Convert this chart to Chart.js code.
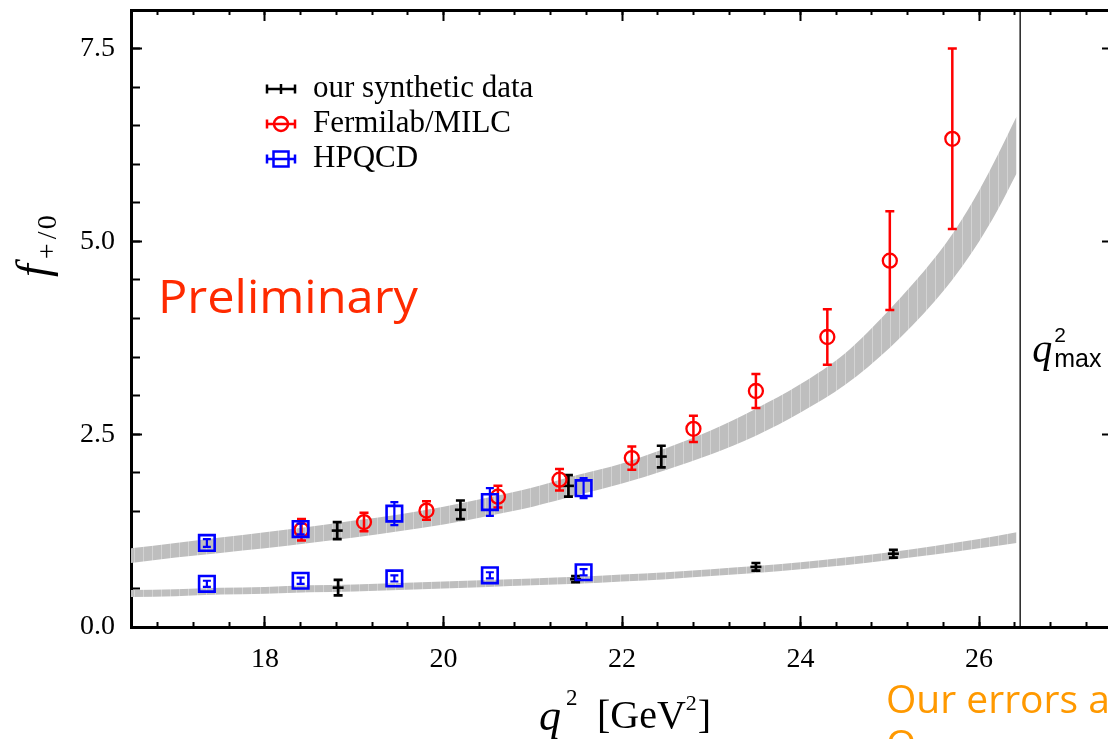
<!DOCTYPE html>
<html>
<head>
<meta charset="utf-8">
<title>f+ / f0 form factors vs q2</title>
<script src="https://cdn.jsdelivr.net/npm/chart.js@4.4.1/dist/chart.umd.min.js"></script>
<style>
  html, body { margin: 0; padding: 0; background: #fff; overflow: hidden; width: 1108px; height: 739px; }
  #wrap { position: relative; width: 1108px; height: 739px; overflow: hidden; }
  #ffChart { position: absolute; left: 0; top: 0; }
</style>
</head>
<body>
<div id="wrap"><canvas id="ffChart" width="1118" height="739"></canvas></div>
<script>
// Fit bands (lower / upper edge) for f+ and f0
const plusQ2  = [16.5, 17.0, 17.5, 18.0, 18.5, 19.0, 19.5, 20.0, 20.5, 21.0, 21.5, 22.0, 22.5, 23.0, 23.5, 24.0, 24.5, 25.0, 25.5, 25.75, 26.0, 26.2, 26.42];
const plusLo  = [0.83, 0.90, 0.96, 1.02, 1.09, 1.16, 1.24, 1.33, 1.44, 1.56, 1.71, 1.86, 2.04, 2.24, 2.48, 2.78, 3.14, 3.62, 4.22, 4.58, 5.00, 5.39, 5.88];
const plusHi  = [1.02, 1.09, 1.16, 1.23, 1.30, 1.38, 1.46, 1.56, 1.68, 1.81, 1.97, 2.12, 2.32, 2.55, 2.83, 3.15, 3.55, 4.12, 4.78, 5.18, 5.66, 6.10, 6.62];

const zeroQ2  = [16.5, 17.0, 17.5, 18.0, 18.5, 19.0, 19.5, 20.0, 20.5, 21.0, 21.5, 22.0, 22.5, 23.0, 23.5, 24.0, 24.5, 25.0, 25.5, 26.0, 26.42];
const zeroLo  = [0.39, 0.40, 0.42, 0.43, 0.45, 0.46, 0.48, 0.50, 0.52, 0.54, 0.56, 0.59, 0.62, 0.66, 0.70, 0.75, 0.80, 0.87, 0.94, 1.02, 1.09];
const zeroHi  = [0.48, 0.49, 0.51, 0.52, 0.54, 0.55, 0.57, 0.59, 0.61, 0.63, 0.65, 0.68, 0.71, 0.75, 0.79, 0.84, 0.90, 0.97, 1.05, 1.14, 1.23];

// our synthetic data
const synthPlusQ2  = [18.81, 20.19, 21.40, 22.44];
const synthPlusF   = [1.25, 1.52, 1.83, 2.21];
const synthPlusErr = [0.11, 0.12, 0.14, 0.14];
const synthZeroQ2  = [18.82, 21.48, 23.50, 25.04];
const synthZeroF   = [0.51, 0.62, 0.78, 0.95];
const synthZeroErr = [0.10, 0.04, 0.05, 0.05];

// Fermilab/MILC
const fnalQ2  = [18.41, 19.11, 19.81, 20.61, 21.30, 22.11, 22.80, 23.50, 24.30, 25.00, 25.70];
const fnalF   = [1.26, 1.36, 1.51, 1.69, 1.91, 2.19, 2.57, 3.06, 3.76, 4.75, 6.33];
const fnalErr = [0.14, 0.12, 0.12, 0.14, 0.14, 0.15, 0.17, 0.22, 0.36, 0.64, 1.17];

// HPQCD
const hpqcdQ2       = [17.35, 18.40, 19.45, 20.52, 21.57];
const hpqcdPlusF    = [1.09, 1.27, 1.47, 1.62, 1.80];
const hpqcdPlusErr  = [0.05, 0.07, 0.15, 0.18, 0.13];
const hpqcdZeroF    = [0.56, 0.60, 0.63, 0.67, 0.71];
const hpqcdZeroErr  = [0.04, 0.04, 0.04, 0.04, 0.04];

const legendOrder = ['our synthetic data', 'Fermilab/MILC', 'HPQCD'];
const xTickValues = [18, 20, 22, 24, 26];
const yTickValues = [0, 2.5, 5.0, 7.5];
const qSqMax = 26.46;

const SERIF = '"Liberation Serif", "Times New Roman", serif';
const SANS = '"Liberation Sans", Arial, sans-serif';
const GILL = '"Open Sans", sans-serif';

const pts = (xs, ys) => xs.map((x, i) => ({ x: x, y: ys[i] }));

const canvas = document.getElementById('ffChart');
const ctx = canvas.getContext('2d');

// grey fill with faint vertical striping
function bandPattern() {
    const c = document.createElement('canvas');
    c.width = 9; c.height = 4;
    const g = c.getContext('2d');
    g.fillStyle = '#bebebe';
    g.fillRect(0, 0, 9, 4);
    g.fillStyle = '#d3d3d3';
    g.fillRect(8, 0, 1, 4);
    return ctx.createPattern(c, 'repeat');
}
const band = bandPattern();

function bandSet(xs, ys, fill) {
    return {
        type: 'line',
        data: pts(xs, ys),
        borderWidth: 0,
        pointRadius: 0,
        backgroundColor: band,
        fill: fill,
        cubicInterpolationMode: 'monotone',
        order: 10
    };
}

function pointSet(label, xs, ys, errs, color, style, radius, opts) {
    return Object.assign({
        label: label,
        type: 'line',
        showLine: false,
        data: pts(xs, ys),
        errors: errs,
        borderColor: color,
        backgroundColor: 'rgba(0,0,0,0)',
        pointStyle: style,
        pointRadius: radius,
        pointBorderWidth: 2.3,
        pointBorderColor: color,
        pointBackgroundColor: 'rgba(0,0,0,0)',
        errorWidth: 2.5,
        capHalf: 4.5
    }, opts);
}

// vertical error bars with caps, drawn before each marker set
const errorBars = {
    id: 'errorBars',
    beforeDatasetDraw(chart, args) {
        const ds = chart.data.datasets[args.index];
        if (!ds.errors) return;
        const c = chart.ctx;
        const yScale = chart.scales[args.meta.yAxisID];
        c.save();
        c.strokeStyle = ds.borderColor;
        c.lineWidth = ds.errorWidth;
        args.meta.data.forEach((el, i) => {
            const v = ds.data[i].y;
            const e = ds.errors[i];
            const top = yScale.getPixelForValue(v + e);
            const bot = yScale.getPixelForValue(v - e);
            const h = ds.capHalf;
            c.beginPath();
            c.moveTo(el.x, top); c.lineTo(el.x, bot);
            c.moveTo(el.x - h, top); c.lineTo(el.x + h, top);
            c.moveTo(el.x - h, bot); c.lineTo(el.x + h, bot);
            c.stroke();
        });
        c.restore();
    }
};

// legend, q2max line and the free text on the plot
const decorations = {
    id: 'decorations',
    afterDraw(chart) {
        const c = chart.ctx;
        const xs = chart.scales.x;
        const area = chart.chartArea;
        c.save();

        // q^2_max
        const qx = xs.getPixelForValue(qSqMax);
        c.strokeStyle = '#000';
        c.lineWidth = 1.3;
        c.beginPath();
        c.moveTo(qx, area.top);
        c.lineTo(qx, area.bottom);
        c.stroke();

        c.fillStyle = '#000';
        c.textBaseline = 'alphabetic';
        c.textAlign = 'left';
        c.font = 'italic 40px ' + SERIF;
        c.fillText('q', qx + 12, 362);
        c.font = '21px ' + SANS;
        c.fillText('2', qx + 34, 342);
        c.font = '25px ' + SANS;
        c.fillText('max', qx + 34, 367);

        // legend
        const rows = legendOrder.map(name => chart.data.datasets.find(d => d.label === name));
        rows.forEach((d, i) => {
            const cy = 89 + i * 35;
            const x0 = 267, x1 = 295, cx = 281;
            c.strokeStyle = d.borderColor;
            c.lineWidth = 2.5;
            c.beginPath();
            c.moveTo(x0, cy); c.lineTo(x1, cy);
            c.moveTo(x0, cy - 4.5); c.lineTo(x0, cy + 4.5);
            c.moveTo(x1, cy - 4.5); c.lineTo(x1, cy + 4.5);
            c.stroke();
            c.beginPath();
            if (d.pointStyle === 'circle') {
                c.arc(cx, cy, 7, 0, Math.PI * 2);
            } else if (d.pointStyle === 'rect') {
                c.rect(cx - 7.5, cy - 7.5, 15, 15);
            } else {
                c.moveTo(cx, cy - 5); c.lineTo(cx, cy + 5);
            }
            c.lineWidth = 2.5;
            c.stroke();
            c.fillStyle = '#000';
            c.font = '31px ' + SERIF;
            c.fillText(d.label, 313, cy + 8);
        });

        // y axis title f_{+/0}
        c.save();
        c.translate(48, 277);
        c.rotate(-Math.PI / 2);
        c.fillStyle = '#000';
        c.font = 'italic 46px ' + SERIF;
        c.fillText('f', 0, 0);
        const fw = c.measureText('f').width;
        c.font = '28px ' + SERIF;
        c.fillText('+', fw + 5, 8);
        c.fillText('/', fw + 25, 8);
        c.fillText('0', fw + 35, 8);
        c.restore();

        // x axis title q^2 [GeV^2]
        c.fillStyle = '#000';
        c.font = 'italic 44px ' + SERIF;
        c.fillText('q', 539, 730);
        c.font = '23px ' + SERIF;
        c.fillText('2', 566, 705);
        c.font = '40px ' + SERIF;
        c.fillText('[GeV', 597, 728);
        const w = c.measureText('[GeV').width;
        c.font = '22px ' + SERIF;
        c.fillText('2', 597 + w, 710);
        const w2 = c.measureText('2').width;
        c.font = '40px ' + SERIF;
        c.fillText(']', 597 + w + w2 + 1, 728);

        // Preliminary
        c.save();
        c.font = '46px ' + GILL;
        c.fillStyle = '#ff2a00';
        const pw = c.measureText('Preliminary').width;
        c.translate(158, 313);
        c.scale(260 / pw, 1);
        c.fillText('Preliminary', 0, 0);
        c.restore();

        // orange note, runs off the edge
        c.font = '39px ' + GILL;
        c.fillStyle = '#ff9900';
        c.fillText('Our errors are', 886, 713);
        c.fillText('O', 886, 758);

        c.restore();
    }
};

const tickMarks = (len) => ({
    display: true,
    drawOnChartArea: false,
    drawTicks: true,
    tickLength: -len,
    tickWidth: 2,
    tickColor: '#000'
});
const frame = { display: true, color: '#000', width: 3 };
const noFrame = { display: false };
const tickFont = { family: SERIF, size: 28 };

// fixed axis box size, no extra room for end labels
const fixSize = (dim, size) => s => {
    s[dim] = size;
    s.paddingTop = 0; s.paddingBottom = 0;
    s.paddingLeft = 0; s.paddingRight = 0;
};

const chart = new Chart(ctx, {
    type: 'line',
    data: {
        datasets: [
            pointSet('HPQCD', hpqcdQ2, hpqcdPlusF, hpqcdPlusErr, '#0000ff', 'rect', 11, { order: 1, capHalf: 4, errorWidth: 2.2, pointBorderWidth: 2.6 }),
            pointSet(null, hpqcdQ2, hpqcdZeroF, hpqcdZeroErr, '#0000ff', 'rect', 11, { order: 1, capHalf: 4, errorWidth: 2.2, pointBorderWidth: 2.6 }),
            pointSet('Fermilab/MILC', fnalQ2, fnalF, fnalErr, '#ff0000', 'circle', 7, { order: 2 }),
            pointSet('our synthetic data', synthPlusQ2, synthPlusF, synthPlusErr, '#000000', 'line', 5.5, { order: 3, pointBorderWidth: 2.6, errorWidth: 2.7 }),
            pointSet(null, synthZeroQ2, synthZeroF, synthZeroErr, '#000000', 'line', 5.5, { order: 3, pointBorderWidth: 2.6, errorWidth: 2.7 }),
            bandSet(plusQ2, plusHi, '+1'),
            bandSet(plusQ2, plusLo, false),
            bandSet(zeroQ2, zeroHi, '+1'),
            bandSet(zeroQ2, zeroLo, false)
        ]
    },
    options: {
        responsive: false,
        animation: false,
        events: [],
        layout: { autoPadding: false, padding: { top: 10, right: 5, bottom: 0, left: 0 } },
        plugins: {
            legend: { display: false },
            tooltip: { enabled: false }
        },
        scales: {
            x: {
                type: 'linear', position: 'bottom', min: 16.5, max: 27.5, weight: 1,
                afterBuildTicks: s => { s.ticks = xTickValues.map(v => ({ value: v })); },
                ticks: { font: tickFont, color: '#000', padding: 27, maxRotation: 0, autoSkip: false, callback: v => String(v) },
                grid: tickMarks(11),
                border: frame,
                afterFit: fixSize('height', 112)
            },
            xMinor: {
                type: 'linear', position: 'bottom', min: 16.5, max: 27.5, weight: 0,
                ticks: { display: false, stepSize: 0.4, includeBounds: false },
                grid: tickMarks(5),
                border: noFrame,
                afterFit: fixSize('height', 0)
            },
            xTop: {
                type: 'linear', position: 'top', min: 16.5, max: 27.5, weight: 1,
                afterBuildTicks: s => { s.ticks = xTickValues.map(v => ({ value: v })); },
                ticks: { display: false },
                grid: tickMarks(11),
                border: frame,
                afterFit: fixSize('height', 0)
            },
            xTopMinor: {
                type: 'linear', position: 'top', min: 16.5, max: 27.5, weight: 0,
                ticks: { display: false, stepSize: 0.4, includeBounds: false },
                grid: tickMarks(5),
                border: noFrame,
                afterFit: fixSize('height', 0)
            },
            y: {
                type: 'linear', position: 'left', min: 0, max: 8, weight: 1,
                afterBuildTicks: s => { s.ticks = yTickValues.map(v => ({ value: v })); },
                ticks: { font: tickFont, color: '#000', padding: 27, callback: v => v.toFixed(1) },
                grid: tickMarks(11),
                border: frame,
                afterFit: fixSize('width', 131)
            },
            yMinor: {
                type: 'linear', position: 'left', min: 0, max: 8, weight: 0,
                ticks: { display: false, stepSize: 0.5, includeBounds: false },
                grid: tickMarks(9),
                border: noFrame,
                afterFit: fixSize('width', 0)
            },
            yRight: {
                type: 'linear', position: 'right', min: 0, max: 8, weight: 0,
                afterBuildTicks: s => { s.ticks = yTickValues.map(v => ({ value: v })); },
                ticks: { display: false },
                grid: tickMarks(11),
                border: frame,
                afterFit: fixSize('width', 0)
            }
        }
    },
    plugins: [errorBars, decorations]
});
</script>
</body>
</html>
